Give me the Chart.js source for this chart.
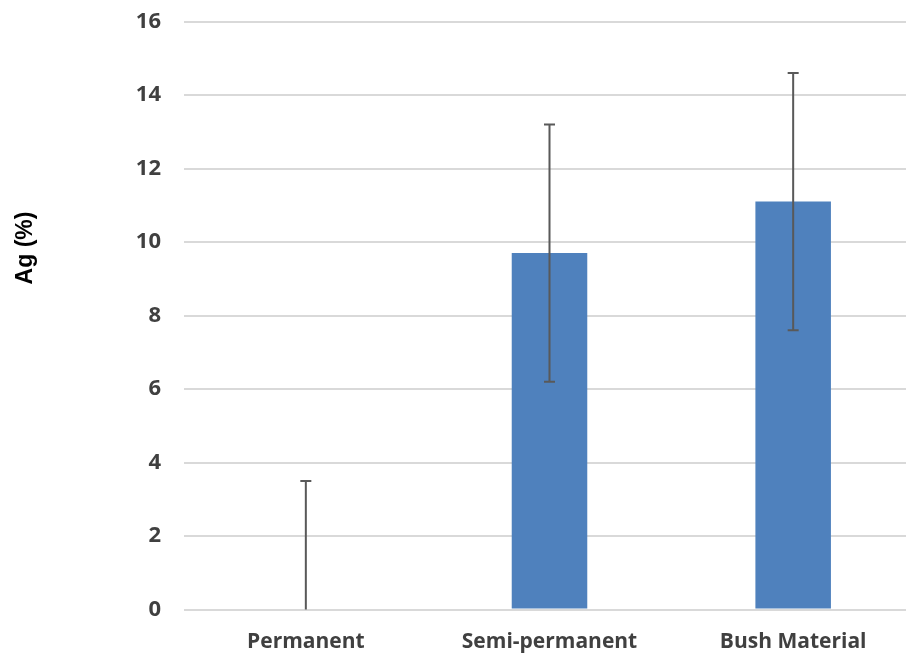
<!DOCTYPE html>
<html>
<head>
<meta charset="utf-8">
<script src="https://cdn.jsdelivr.net/npm/chart.js@4.4.1/dist/chart.umd.min.js"></script>
<style>
  html, body { margin: 0; padding: 0; background: #ffffff; overflow: hidden; }
  #wrap { position: relative; width: 920px; height: 661px; }
</style>
</head>
<body>
<div id="wrap"><canvas id="chart" width="920" height="661"></canvas></div>
<script>
// Housing categories and mean Ag (%) with ± error
const categories = ['Permanent', 'Semi-permanent', 'Bush Material'];
const agMeans = [0, 9.7, 11.1];
const agErrors = [3.5, 3.5, 3.5];
const yTicks = [0, 2, 4, 6, 8, 10, 12, 14, 16];

// Vertical error bars with caps, positioned through the chart scales
const errorBars = {
  id: 'errorBars',
  afterDatasetsDraw(chart) {
    const { ctx, scales: { x, y } } = chart;
    ctx.save();
    ctx.strokeStyle = '#595959';
    ctx.lineWidth = 2;
    agMeans.forEach((v, i) => {
      const cx = x.getPixelForValue(i);
      const lo = Math.max(0, v - agErrors[i]);
      const hi = v + agErrors[i];
      const yTop = y.getPixelForValue(hi);
      const yBot = y.getPixelForValue(lo);
      ctx.beginPath();
      ctx.moveTo(cx, yTop);
      ctx.lineTo(cx, yBot);
      ctx.moveTo(cx - 5.5, yTop);
      ctx.lineTo(cx + 5.5, yTop);
      if (lo > 0) {
        ctx.moveTo(cx - 5.5, yBot);
        ctx.lineTo(cx + 5.5, yBot);
      }
      ctx.stroke();
    });
    ctx.restore();
  }
};

// Rotated y-axis title
const yTitle = {
  id: 'yTitle',
  afterDraw(chart) {
    const ctx = chart.ctx;
    ctx.save();
    ctx.translate(26, 248);
    ctx.rotate(-Math.PI / 2);
    ctx.fillStyle = '#000000';
    ctx.font = 'bold 23px "Liberation Sans", Arial, sans-serif';
    ctx.textAlign = 'center';
    ctx.textBaseline = 'middle';
    ctx.fillText('Ag (%)', 0, 0);
    ctx.restore();
  }
};

new Chart(document.getElementById('chart'), {
  type: 'bar',
  data: {
    labels: categories,
    datasets: [{
      data: agMeans,
      backgroundColor: '#4f81bd',
      borderWidth: 0,
      categoryPercentage: 1.0,
      barPercentage: 0.31
    }]
  },
  options: {
    responsive: false,
    animation: false,
    devicePixelRatio: 1,
    layout: { padding: { left: 0, top: 21.5, right: 5, bottom: 0 } },
    plugins: {
      legend: { display: false },
      tooltip: { enabled: false }
    },
    scales: {
      x: {
        grid: { display: false, drawTicks: false },
        border: { display: false },
        ticks: {
          color: '#404040',
          padding: 20,
          font: { family: '"Open Sans", sans-serif', weight: 'bold', size: 21 }
        },
        afterFit(scale) {
          scale.height = 51.5;
          scale.paddingLeft = 0;
          scale.paddingRight = 0;
        }
      },
      y: {
        min: 0,
        max: 16,
        afterBuildTicks(scale) { scale.ticks = yTicks.map(v => ({ value: v })); },
        grid: { color: '#d9d9d9', lineWidth: 2, drawTicks: false },
        border: { display: false },
        ticks: {
          color: '#404040',
          padding: 23,
          font: { family: '"Open Sans", sans-serif', weight: 'bold', size: 22 }
        },
        afterFit(scale) {
          scale.width = 184;
          scale.paddingTop = 0;
          scale.paddingBottom = 0;
        }
      }
    }
  },
  plugins: [errorBars, yTitle]
});
</script>
</body>
</html>
